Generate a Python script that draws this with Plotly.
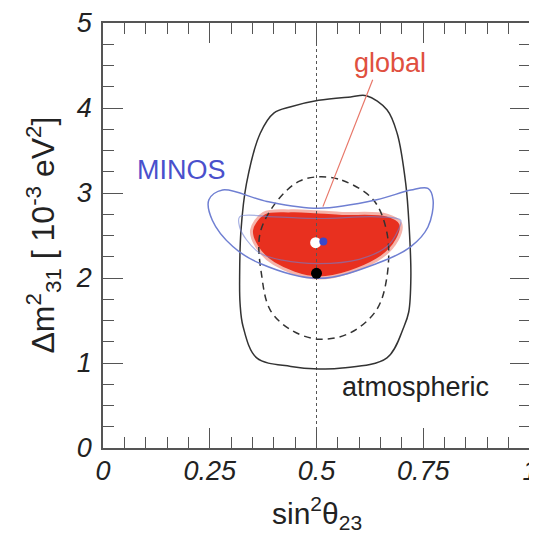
import plotly.graph_objects as go

# ---- data ----
atm_outer_x = [0.505, 0.58, 0.617, 0.665, 0.689, 0.709, 0.717, 0.721, 0.716, 0.705, 0.665, 0.56, 0.505,
               0.44, 0.36, 0.328, 0.321, 0.32, 0.323, 0.336, 0.368, 0.40, 0.44, 0.505]
atm_outer_y = [4.09, 4.13, 4.145, 3.98, 3.70, 3.11, 2.60, 2.015, 1.60, 1.43, 1.06, 0.94, 0.93,
               0.96, 1.06, 1.43, 1.70, 2.015, 2.55, 3.11, 3.70, 3.94, 4.015, 4.09]

atm_inner_x = [0.505, 0.56, 0.633, 0.665, 0.665, 0.64, 0.577, 0.505, 0.44, 0.392, 0.372, 0.368, 0.41, 0.46, 0.505]
atm_inner_y = [3.19, 3.15, 2.92, 2.53, 2.015, 1.62, 1.35, 1.28, 1.39, 1.62, 2.015, 2.53, 2.92, 3.14, 3.19]

minos_outer_x = [0.505, 0.641, 0.721, 0.761, 0.773, 0.761, 0.721, 0.641, 0.505, 0.368, 0.304, 0.256,
                 0.248, 0.28, 0.384, 0.505]
minos_outer_y = [2.82, 2.92, 3.035, 3.055, 2.92, 2.60, 2.37, 2.17, 1.996, 2.17, 2.37, 2.68,
                 2.92, 3.035, 2.90, 2.82]

minos_inner_x = [0.505, 0.641, 0.697, 0.69, 0.665, 0.60, 0.505, 0.42, 0.368, 0.336, 0.32, 0.32, 0.40, 0.505]
minos_inner_y = [2.70, 2.72, 2.68, 2.55, 2.37, 2.22, 2.17, 2.21, 2.29, 2.45, 2.60, 2.72, 2.72, 2.70]

global_x = [0.50, 0.56, 0.665, 0.697, 0.689, 0.641, 0.505, 0.40, 0.36, 0.348, 0.376, 0.44, 0.50]
global_y = [2.78, 2.76, 2.74, 2.64, 2.45, 2.21, 2.00, 2.17, 2.37, 2.565, 2.76, 2.79, 2.78]

bf_global = (0.498, 2.415)
bf_minos = (0.516, 2.43)
bf_atm = (0.50, 2.055)

x_ticks = [0, 0.25, 0.5, 0.75, 1]
x_tick_text = ["0", "0.25", "0.5", "0.75", "1"]
y_ticks = [0, 1, 2, 3, 4, 5]
y_tick_text = ["0", "1", "2", "3", "4", "5"]

FONT = "Liberation Sans, Arial, Helvetica, sans-serif"
RED = "#e8301f"
BLUE = "#6f7fd2"
BLACK = "#333333"

fig = go.Figure()

# global filled region
fig.add_trace(go.Scatter(x=global_x, y=global_y, mode="lines", line=dict(color="#f5b3aa", width=3, shape="spline"),
                         fill="toself", fillcolor=RED, hoverinfo="skip", showlegend=False))
# vertical dotted line at maximal mixing
fig.add_trace(go.Scatter(x=[0.5, 0.5], y=[0, 5], mode="lines", line=dict(color="#555555", width=1, dash="dot"),
                         hoverinfo="skip", showlegend=False))
# atmospheric contours
fig.add_trace(go.Scatter(x=atm_outer_x, y=atm_outer_y, mode="lines",
                         line=dict(color=BLACK, width=1.5, shape="spline"), hoverinfo="skip", showlegend=False))
fig.add_trace(go.Scatter(x=atm_inner_x, y=atm_inner_y, mode="lines",
                         line=dict(color=BLACK, width=1.5, dash="7px,5px", shape="spline"), hoverinfo="skip", showlegend=False))
# MINOS contours
fig.add_trace(go.Scatter(x=minos_outer_x, y=minos_outer_y, mode="lines",
                         line=dict(color=BLUE, width=1.5, shape="spline"), hoverinfo="skip", showlegend=False))
fig.add_trace(go.Scatter(x=minos_inner_x, y=minos_inner_y, mode="lines", opacity=0.6,
                         line=dict(color=BLUE, width=1.2, shape="spline"), hoverinfo="skip", showlegend=False))
# best-fit points
fig.add_trace(go.Scatter(x=[bf_global[0]], y=[bf_global[1]], mode="markers",
                         marker=dict(color="white", size=11, line=dict(width=0)), hoverinfo="skip", showlegend=False))
fig.add_trace(go.Scatter(x=[bf_minos[0]], y=[bf_minos[1]], mode="markers",
                         marker=dict(color="#3a48c8", size=8, line=dict(width=0)), hoverinfo="skip", showlegend=False))
fig.add_trace(go.Scatter(x=[bf_atm[0]], y=[bf_atm[1]], mode="markers",
                         marker=dict(color="black", size=11, line=dict(width=0)), hoverinfo="skip", showlegend=False))

# labels
fig.add_annotation(x=0.672, y=4.53, text="global", showarrow=False,
                   font=dict(family=FONT, size=27, color="#e0503f"))
fig.add_annotation(x=0.515, y=2.84, ax=0.633, ay=4.35, axref="x", ayref="y", xref="x", yref="y",
                   text="", showarrow=True, arrowhead=0, arrowwidth=1.2, arrowcolor="#e8786a")
fig.add_annotation(x=0.184, y=3.27, text="MINOS", showarrow=False,
                   font=dict(family=FONT, size=27, color="#4a50cc"))
fig.add_annotation(x=0.733, y=0.72, text="atmospheric", showarrow=False,
                   font=dict(family=FONT, size=27, color="#222222"))

# y title (positions in window pixels: plot area spans x 103..530, y 23..448)
fig.add_annotation(xref="paper", yref="paper", x=(43 - 103) / 427, y=0.5, xanchor="center", yanchor="middle",
                   textangle=-90, showarrow=False,
                   text="Δm<sup>2</sup><sub>31</sub> [ 10<sup>-3</sup> eV<sup>2</sup>]",
                   font=dict(family=FONT, size=32, color="#222222"))
# x title
fig.add_annotation(xref="paper", yref="paper", x=0.5, y=(448 - 513) / 425, xanchor="center", yanchor="middle",
                   showarrow=False, text="sin<sup>2</sup>θ<sub>23</sub>",
                   font=dict(family=FONT, size=30, color="#222222"))

axis_common = dict(showgrid=False, zeroline=False, showline=True, linecolor="#555555", linewidth=1.5,
                   mirror="allticks", ticks="inside", tickcolor="#555555", tickwidth=1.2, ticklen=20,
                   tickfont=dict(family=FONT, size=27, color="#222222", style="italic"),
                   ticklabeloverflow="allow", automargin=False)

fig.update_xaxes(range=[0, 1], tickvals=x_ticks, ticktext=x_tick_text,
                 minor=dict(dtick=0.05, tick0=0, ticks="inside", ticklen=11, tickcolor="#555555", tickwidth=1.2),
                 ticklabelstandoff=-2, **axis_common)
fig.update_yaxes(range=[0, 5], tickvals=y_ticks, ticktext=y_tick_text,
                 minor=dict(dtick=0.25, tick0=0, ticks="inside", ticklen=11, tickcolor="#555555", tickwidth=1.2),
                 ticklabelstandoff=4, **axis_common)

# the page body has an 8px default margin, so the figure is sized to end at the window's edge
fig.update_layout(width=529, height=536, margin=dict(l=95, r=7, t=15, b=96),
                  plot_bgcolor="white", paper_bgcolor="white", showlegend=False)

fig.write_html("out.html")
